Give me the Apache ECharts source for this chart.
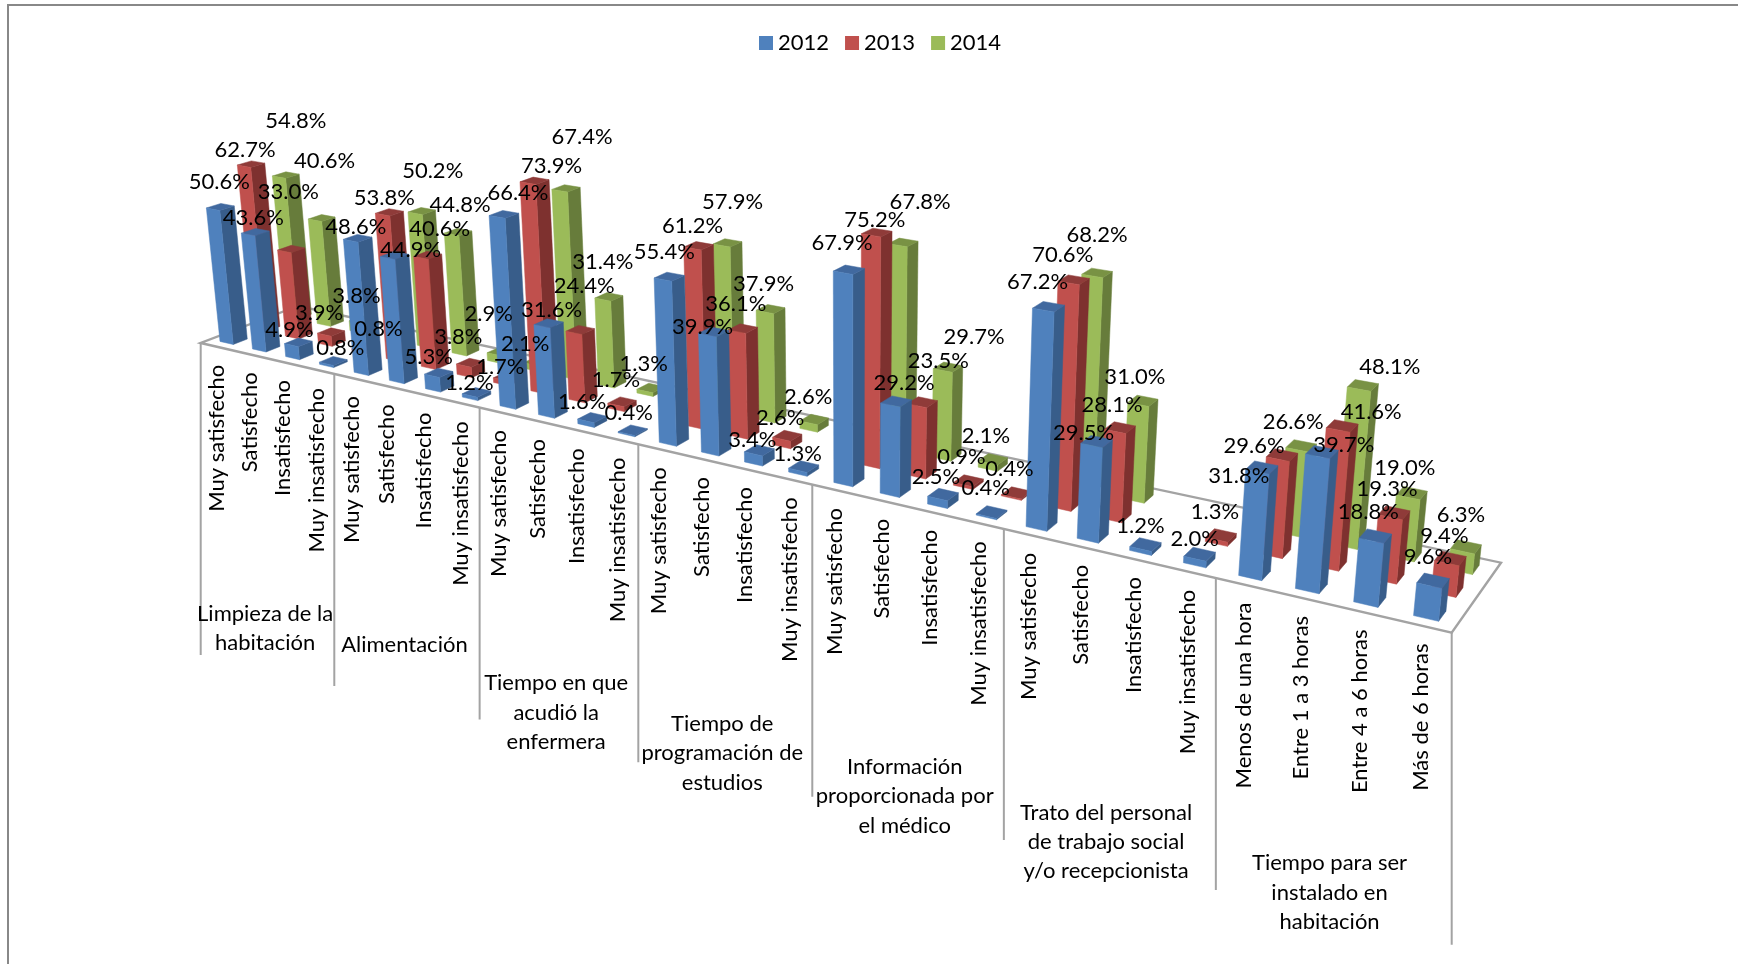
<!DOCTYPE html>
<html><head><meta charset="utf-8">
<style>html,body{margin:0;padding:0;background:#fff}#c{width:1738px;height:964px}</style>
<script src="https://cdn.jsdelivr.net/npm/echarts@6/dist/echarts.min.js"></script>
</head><body><div id="c"></div>
<script>
const years = ['2012','2013','2014'];
const groupNames = [
  ['Limpieza de la','habitación'],
  ['Alimentación'],
  ['Tiempo en que','acudió la','enfermera'],
  ['Tiempo de','programación de','estudios'],
  ['Información','proporcionada por','el médico'],
  ['Trato del personal','de trabajo social','y/o recepcionista'],
  ['Tiempo para ser','instalado en','habitación']
];
const satisfaction = ['Muy satisfecho','Satisfecho','Insatisfecho','Muy insatisfecho'];
const hours = ['Menos de una hora','Entre 1 a 3 horas','Entre 4 a 6 horas','Más de 6 horas'];
const categories = [...satisfaction,...satisfaction,...satisfaction,...satisfaction,...satisfaction,...satisfaction,...hours];
const values2012 = [50.6,43.6,4.9,0.8, 48.6,44.9,5.3,1.2, 66.4,31.6,1.6,0.4, 55.4,39.9,3.4,1.3, 67.9,29.2,2.5,0.4, 67.2,29.5,1.2,2.0, 31.8,39.7,18.8,9.6];
const values2013 = [62.7,33.0,3.9,0.8, 53.8,40.6,3.8,1.7, 73.9,24.4,1.7,null, 61.2,36.1,2.6,null, 75.2,23.5,0.9,0.4, 70.6,28.1,null,1.3, 29.6,41.6,19.3,9.4];
const values2014 = [54.8,40.6,3.8,null, 50.2,44.8,2.9,2.1, 67.4,31.4,1.3,null, 57.9,37.9,2.6,null, 67.8,29.7,2.1,null, 68.2,31.0,null,null, 26.6,48.1,19.0,6.3];
const seriesValues = [values2012,values2013,values2014];

// label displacement from the top of each bar, as Excel laid them out
const labelShift2012 = [[-1,-25],[-2,-14],[-9,-12],[7,-13],[-2,-11],[16,-6],[-10,-16],[-7,-10],[14,-21],[3,-13],[-10,-16],[-4,-17],[-5,-25],[-11,-5],[-7,-10],[-6,-13],[-7,-27],[8,-19],[-7,-18],[-6,-24],[-11,-25],[-13,-9],[-5,-19],[-5,-15],[-23,8],[22,-7],[-7,-24],[-5,-24]];
const labelShift2013 = [[-6,-14],[-3,-57],[-12,-19],[13,-19],[-5,-14],[12,-26],[-12,-26],[-7,-10],[17,-15],[4,-44],[-6,-22],null,[-6,-20],[-7,-25],[-7,-18],null,[-2,-13],[16,-41],[-7,-24],[-7,-24],[-11,-25],[-8,-23],null,[-6,-23],[-28,-9],[29,-14],[-7,-24],[-6,-23]];
const labelShift2014 = [[10,-54],[3,-57],[-6,-24],null,[11,-40],[2,-27],[-12,-38],[-12,-18],[16,-51],[-6,-35],[-7,-24],null,[5,-41],[-7,-25],[-6,-23],null,[17,-41],[26,-30],[-7,-23],null,[0,-38],[-8,-24],null,null,[-8,-24],[27,-19],[-7,-25],[-5,-32]];
const labelShifts = [labelShift2012,labelShift2013,labelShift2014];

// styles and camera
const faceColours = [
  {front:'#4F81BD',side:'#385D8A',top:'#41699F'},
  {front:'#C0504D',side:'#7E312F',top:'#8F3B39'},
  {front:'#9BBB59',side:'#677C3B',top:'#799244'}
];
const floorCorners = [[200.7,343],[1451.7,632.7],[1501,562.7],[298,306]];
const verticalVanish = [850,6500], heightPull = -0.042;
const barWidth = 0.41, barDepth = 0.14;
const dividerLengths = [312,312,312,318,312,311,312,312];
const groupDrop = [270,255,287,289,290,289,288];
const FONT = '22px Lato';

const [p0,p1,p2,p3] = floorCorners;
const dx1=p1[0]-p2[0], dy1=p1[1]-p2[1], dx2=p3[0]-p2[0], dy2=p3[1]-p2[1];
const sx=p0[0]-p1[0]+p2[0]-p3[0], sy=p0[1]-p1[1]+p2[1]-p3[1];
const den=dx1*dy2-dx2*dy1;
const G=(sx*dy2-dx2*sy)/den, H_=(dx1*sy-sx*dy1)/den;
const A=p1[0]-p0[0]+G*p1[0], B=p3[0]-p0[0]+H_*p3[0], C=p0[0];
const D=p1[1]-p0[1]+G*p1[1], E=p3[1]-p0[1]+H_*p3[1], F=p0[1];
function project(u,v,h){
  const kh=heightPull*h, w=G*u+H_*v+1+kh;
  return [(A*u+B*v+C+kh*verticalVanish[0])/w,(D*u+E*v+F+kh*verticalVanish[1])/w];
}
// turn axis values into unit floor coordinates through the chart's own scales
function toUnit(api,x,y){
  const pt=api.coord([x,y]);
  return [pt[0]/api.getWidth(), 1-pt[1]/api.getHeight()];
}
function rows(vals){return vals.map((v,i)=>[i,v]).filter(d=>d[1]!=null);}

function barSeries(si){
  const vc=(si+0.5)/3, v0=vc-barDepth/2, v1=vc+barDepth/2, col=faceColours[si];
  return {
    type:'custom',name:years[si],coordinateSystem:'cartesian2d',z:5-si,clip:false,silent:true,
    itemStyle:{color:col.front},encode:{x:0,y:1},data:rows(seriesValues[si]),
    renderItem(params,api){
      const c=api.value(0), val=api.value(1);
      const [u0,h]=toUnit(api,c+0.5-barWidth/2,val);
      const [u1]=toUnit(api,c+0.5+barWidth/2,val);
      const poly=(pts,fill)=>({type:'polygon',shape:{points:pts},style:{fill,stroke:fill,lineWidth:0.5}});
      return {type:'group',children:[
        poly([project(u1,v0,0),project(u1,v1,0),project(u1,v1,h),project(u1,v0,h)],col.side),
        poly([project(u0,v0,h),project(u1,v0,h),project(u1,v1,h),project(u0,v1,h)],col.top),
        poly([project(u0,v0,0),project(u1,v0,0),project(u1,v0,h),project(u0,v0,h)],col.front)
      ]};
    }
  };
}
function labelSeries(si){
  const vc=(si+0.5)/3;
  return {
    type:'custom',name:'etiquetas '+years[si],coordinateSystem:'cartesian2d',z:20,clip:false,silent:true,
    encode:{x:0,y:1},data:rows(seriesValues[si]),
    renderItem(params,api){
      const c=api.value(0), val=api.value(1);
      const [u,h]=toUnit(api,c+0.5,val);
      const p=project(u,vc,h), s=labelShifts[si][c]||[-4,-23];
      return {type:'text',x:p[0]+s[0],y:p[1]+s[1],style:{text:val.toFixed(1)+'%',font:FONT,fill:'#000',align:'center',verticalAlign:'middle',textAlign:'center',textVerticalAlign:'middle'}};
    }
  };
}
const floorSeries={
  type:'custom',name:'piso',coordinateSystem:'cartesian2d',z:1,clip:false,silent:true,encode:{x:0,y:1},data:[[0,0]],
  renderItem(params,api){
    const [u0]=toUnit(api,0,0),[u1]=toUnit(api,28,0);
    return {type:'polygon',shape:{points:[project(u0,0,0),project(u1,0,0),project(u1,1,0),project(u0,1,0)]},
      style:{fill:'#fff',stroke:'#A3A3A3',lineWidth:2.4}};
  }
};
const dividerSeries={
  type:'custom',name:'divisiones',coordinateSystem:'cartesian2d',z:2,clip:false,silent:true,encode:{x:0,y:1},
  data:dividerLengths.map((l,i)=>[i*4,0]),
  renderItem(params,api){
    const [u]=toUnit(api,api.value(0),0), p=project(u,0,0);
    return {type:'line',shape:{x1:p[0],y1:p[1],x2:p[0],y2:p[1]+dividerLengths[params.dataIndex]},style:{stroke:'#A3A3A3',lineWidth:2}};
  }
};
const tickSeries={
  type:'custom',name:'categorias',coordinateSystem:'cartesian2d',z:3,clip:false,silent:true,encode:{x:0,y:1},
  data:categories.map((c,i)=>[i,0]),
  renderItem(params,api){
    const [u]=toUnit(api,api.value(0)+0.5,0), p=project(u,0,0);
    return {type:'text',x:p[0],y:p[1]+18,rotation:Math.PI/2,style:{text:categories[params.dataIndex],font:FONT,fill:'#000',align:'right',verticalAlign:'middle',textAlign:'right',textVerticalAlign:'middle'}};
  }
};
const groupSeries={
  type:'custom',name:'grupos',coordinateSystem:'cartesian2d',z:3,clip:false,silent:true,encode:{x:0,y:1},
  data:groupNames.map((g,i)=>[i*4+2,0]),
  renderItem(params,api){
    const i=params.dataIndex,[u]=toUnit(api,api.value(0),0), p=project(u,0,0);
    return {type:'text',x:p[0]-1,y:p[1]+groupDrop[i],style:{text:groupNames[i].join('\n'),font:FONT,lineHeight:29.4,fill:'#000',align:'center',verticalAlign:'middle',textAlign:'center',textVerticalAlign:'middle'}};
  }
};
const chart=echarts.init(document.getElementById('c'),null,{renderer:'canvas'});
chart.setOption({
  animation:false,backgroundColor:'#fff',
  grid:{left:0,right:0,top:0,bottom:0},
  xAxis:{type:'value',min:0,max:28,show:false},
  yAxis:{type:'value',min:0,max:100,show:false},
  legend:{data:years,left:759,top:32,padding:0,itemWidth:14,itemHeight:14,itemGap:16,icon:'rect',selectedMode:false,textStyle:{fontFamily:'Lato',fontSize:22,color:'#000'}},
  graphic:[
    {type:'rect',silent:true,shape:{x:7,y:4,width:1731,height:2},style:{fill:'#888'}},
    {type:'rect',silent:true,shape:{x:7,y:4,width:2,height:960},style:{fill:'#888'}}
  ],
  series:[floorSeries,dividerSeries,tickSeries,groupSeries,barSeries(2),barSeries(1),barSeries(0),labelSeries(0),labelSeries(1),labelSeries(2)]
});
</script></body></html>
